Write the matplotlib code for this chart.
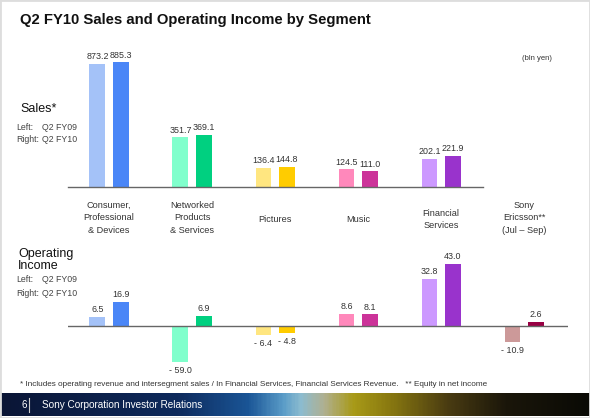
import numpy as np
import matplotlib
matplotlib.use("Agg")
import matplotlib.pyplot as plt
from matplotlib.colors import LinearSegmentedColormap
from matplotlib.patches import Rectangle

plt.rcParams['font.family'] = ['Liberation Sans', 'DejaVu Sans']

# data (bln yen)
segments = ["Consumer,\nProfessional\n& Devices", "Networked\nProducts\n& Services",
            "Pictures", "Music", "Financial\nServices", "Sony\nEricsson**\n(Jul \u2013 Sep)"]
sales_fy09 = [873.2, 351.7, 136.4, 124.5, 202.1, None]
sales_fy10 = [885.3, 369.1, 144.8, 111.0, 221.9, None]
oi_fy09 = [6.5, -59.0, -6.4, 8.6, 32.8, -10.9]
oi_fy10 = [16.9, 6.9, -4.8, 8.1, 43.0, 2.6]
light_colors = ["#a4c2f8", "#80ffcc", "#ffe680", "#ff88bb", "#cc99ff", "#cc9999"]
dark_colors = ["#4a86f7", "#00d080", "#ffcc00", "#cc3399", "#9933cc", "#990044"]

W, H = 590, 418
fig = plt.figure(figsize=(W / 100, H / 100), dpi=100)


def px_axes(x0, y_top, w, h):
    return fig.add_axes([x0 / W, (H - y_top - h) / H, w / W, h / H])


def fmt(v):
    return f"- {abs(v):.1f}" if v < 0 else f"{v:.1f}"


x = np.arange(len(segments))
bw, off = 0.19, 0.14
xl = (-0.494, 5.53)
lab_kw = dict(ha="center", fontsize=6.4, color="#333333")


def draw_bars(ax, a, b, ylo):
    for i in x:
        for val, dx, c in ((a[i], -off, light_colors[i]), (b[i], off, dark_colors[i])):
            if val is None:
                continue
            ax.bar(x[i] + dx, val, width=bw, color=c, edgecolor="none")
            if val >= 0:
                ax.annotate(fmt(val), (x[i] + dx, val), xytext=(0, 2),
                            textcoords="offset points", va="bottom", **lab_kw)
            else:
                ax.annotate(fmt(val), (x[i] + dx, max(val, ylo)), xytext=(0, -3),
                            textcoords="offset points", va="top", **lab_kw)


# Sales axes
ax1 = px_axes(68, 55, 500, 132)
ax1.set_xlim(*xl)
ax1.set_ylim(0, 937)
draw_bars(ax1, sales_fy09, sales_fy10, 0)
ax1.plot([xl[0], 4.506], [0, 0], color="#666666", lw=1, clip_on=False)
ax1.axis("off")

# Operating income axes (the -59.0 bar is cut at the axis bottom, as in the original)
ylo = -25
ax2 = px_axes(68, 258, 500, 104)
ax2.set_xlim(*xl)
ax2.set_ylim(ylo, 47.2)
draw_bars(ax2, oi_fy09, oi_fy10, ylo)
ax2.axhline(0, color="#666666", lw=1)
ax2.axis("off")

# category labels
for i, name in enumerate(segments):
    xf = (68 + (x[i] - xl[0]) / (xl[1] - xl[0]) * 500) / W
    n = name.count("\n") + 1
    yc = {1: 220, 2: 219.5, 3: 218}[n]
    fig.text(xf, 1 - yc / H, name, ha="center", va="center", fontsize=6.6,
             color="#333333", linespacing=1.55)

# text
fig.text(20 / W, 1 - 20 / H, "Q2 FY10 Sales and Operating Income by Segment",
         fontsize=10.7, fontweight="bold", va="center", color="#111111")
fig.text(537 / W, 1 - 58 / H, "(bln yen)", fontsize=5.5, ha="center", va="center", color="#333333")
fig.text(20 / W, 1 - 109 / H, "Sales*", fontsize=9, va="center", color="#111111")
for yy, s1, s2 in ((127, "Left:", "Q2 FY09"), (140, "Right:", "Q2 FY10"),
                   (280, "Left:", "Q2 FY09"), (293, "Right:", "Q2 FY10")):
    fig.text(16 / W, 1 - yy / H, s1, fontsize=6.3, va="center", color="#444444")
    fig.text(42 / W, 1 - yy / H, s2, fontsize=6.3, va="center", color="#444444")
fig.text(18 / W, 1 - 260 / H, "Operating\nIncome", fontsize=9, va="center",
         color="#111111", linespacing=1.0)
fig.text(20 / W, 1 - 384 / H,
         "* Includes operating revenue and intersegment sales / In Financial Services, "
         "Financial Services Revenue.   ** Equity in net income",
         fontsize=5.9, va="center", color="#333333")

# footer band
cmap = LinearSegmentedColormap.from_list("band", [
    (0.0, "#0a1535"), (0.3, "#0e2a5c"), (0.42, "#1a5596"), (0.48, "#5a9cc8"),
    (0.51, "#8cbcd0"), (0.55, "#b0b090"), (0.6, "#a89a18"), (0.66, "#8a7a10"),
    (0.76, "#4a3c12"), (0.86, "#1a160a"), (1.0, "#0a0a05")])
axf = px_axes(0, 393, W, 23)
axf.imshow(np.linspace(0, 1, 400)[None, :], aspect="auto", cmap=cmap,
           extent=(0, 1, 0, 1))
axf.axis("off")
fig.text(22 / W, 1 - 405 / H, "6", color="white", fontsize=7, va="center")
fig.add_artist(plt.Line2D([29 / W, 29 / W], [1 - 398 / H, 1 - 412 / H],
                          color="#cccccc", lw=0.8))
fig.text(42 / W, 1 - 405 / H, "Sony Corporation Investor Relations", color="white",
         fontsize=7.2, va="center")

fig.add_artist(Rectangle((0, 0), 1, 1, transform=fig.transFigure, fill=False,
                         edgecolor="#dddddd", lw=2))

fig.savefig("out.png", dpi=100)
